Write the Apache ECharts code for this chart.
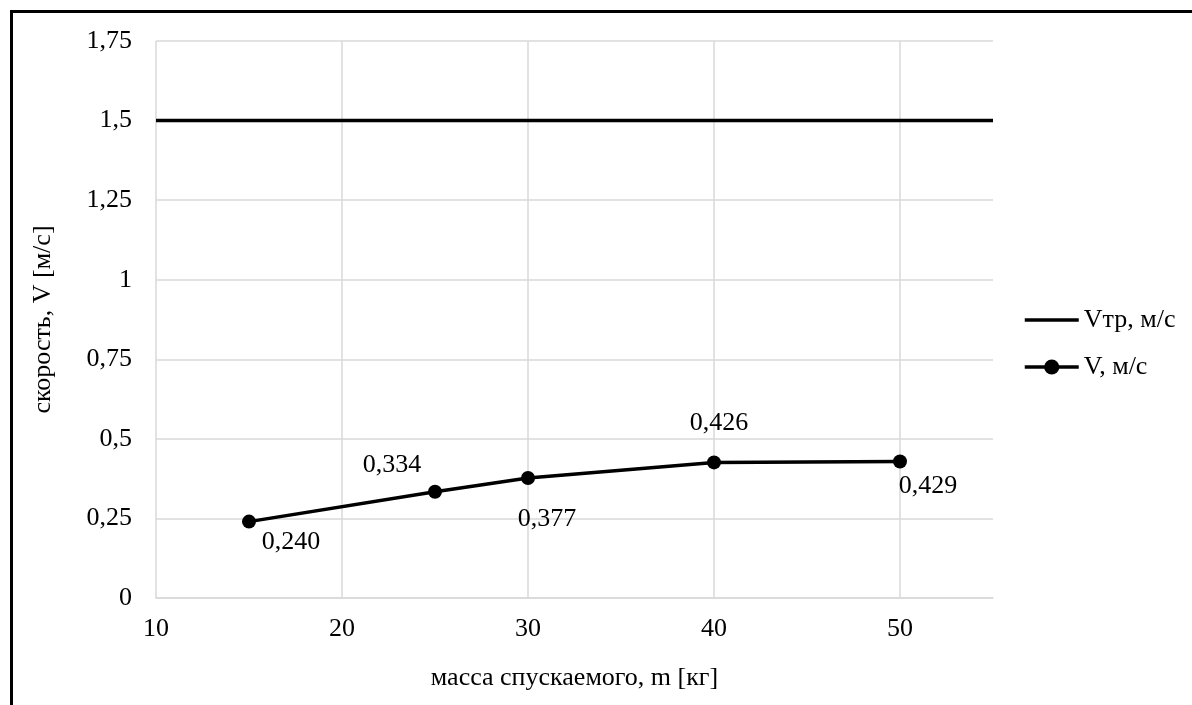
<!DOCTYPE html>
<html>
<head>
<meta charset="utf-8">
<script src="https://cdn.jsdelivr.net/npm/echarts@6/dist/echarts.min.js"></script>
<style>
html,body{margin:0;padding:0;background:#fff;}
#c{width:1192px;height:705px;}
</style>
</head>
<body>
<div id="c"></div>
<script>
// Data
const massV = [15, 25, 30, 40, 50];
const speedV = [0.240, 0.334, 0.377, 0.426, 0.429];
const massVtr = [10, 55];
const speedVtr = [1.5, 1.5];
const seriesNames = ['Vтр, м/с', 'V, м/с'];
const xAxisTitle = 'масса спускаемого, m [кг]';
const yAxisTitle = 'скорость, V [м/с]';

const FONT = '"Liberation Serif", "Times New Roman", serif';
const FS = 26;
const fmt = v => String(v).replace('.', ',');

// label placement offsets (style only)
const labelOffsets = [[42, 21], [-43, -27], [19, 41], [5, -39], [28, 25]];

const vData = massV.map((m, i) => ({
  value: [m, speedV[i]],
  label: { offset: labelOffsets[i] }
}));

const chart = echarts.init(document.getElementById('c'));
chart.setOption({
  backgroundColor: '#fff',
  animation: false,
  textStyle: { fontFamily: FONT },
  grid: { left: 156, right: 199, top: 41, bottom: 107, containLabel: false },
  xAxis: {
    type: 'value', min: 10, max: 55, interval: 10,
    name: xAxisTitle, nameLocation: 'middle', nameGap: 67,
    nameTextStyle: { fontFamily: FONT, fontSize: FS, color: '#000' },
    axisLine: { show: true, lineStyle: { color: '#d9d9d9', width: 1.5 } },
    axisTick: { show: false },
    axisLabel: { fontFamily: FONT, fontSize: FS, color: '#000', margin: 18, showMaxLabel: false, formatter: fmt },
    splitLine: { show: true, showMaxLine: false, lineStyle: { color: '#d9d9d9', width: 1.5 } }
  },
  yAxis: {
    type: 'value', min: 0, max: 1.75, interval: 0.25,
    name: yAxisTitle, nameLocation: 'middle', nameGap: 100,
    nameTextStyle: { fontFamily: FONT, fontSize: FS, color: '#000' },
    axisLine: { show: false },
    axisTick: { show: false },
    axisLabel: { fontFamily: FONT, fontSize: FS, color: '#000', margin: 24, formatter: fmt },
    splitLine: { show: true, lineStyle: { color: '#d9d9d9', width: 1.5 } }
  },
  legend: {
    orient: 'vertical', left: 1018, top: 302,
    itemWidth: 54, itemHeight: 19, itemGap: 21,
    lineStyle: { width: 3.5 },
    textStyle: { fontFamily: FONT, fontSize: FS, color: '#000' },
    data: [
      { name: seriesNames[0], itemStyle: { opacity: 0 } },
      { name: seriesNames[1] }
    ]
  },
  series: [
    {
      name: seriesNames[0], type: 'line',
      data: massVtr.map((m, i) => [m, speedVtr[i]]),
      showSymbol: false, symbol: 'none',
      lineStyle: { color: '#000', width: 3.5 },
      itemStyle: { color: '#000' },
      z: 3
    },
    {
      name: seriesNames[1], type: 'line',
      data: vData,
      symbol: 'circle', symbolSize: 14,
      lineStyle: { color: '#000', width: 3.5 },
      itemStyle: { color: '#000' },
      label: {
        show: true, position: 'inside',
        fontFamily: FONT, fontSize: FS, color: '#000',
        formatter: p => p.value[1].toFixed(3).replace('.', ',')
      },
      z: 4
    }
  ],
  graphic: [
    { type: 'line', shape: { x1: 10, y1: 11.5, x2: 1192, y2: 11.5 }, style: { stroke: '#000', lineWidth: 3 } },
    { type: 'line', shape: { x1: 11.5, y1: 10, x2: 11.5, y2: 705 }, style: { stroke: '#000', lineWidth: 3 } }
  ]
});
</script>
</body>
</html>
